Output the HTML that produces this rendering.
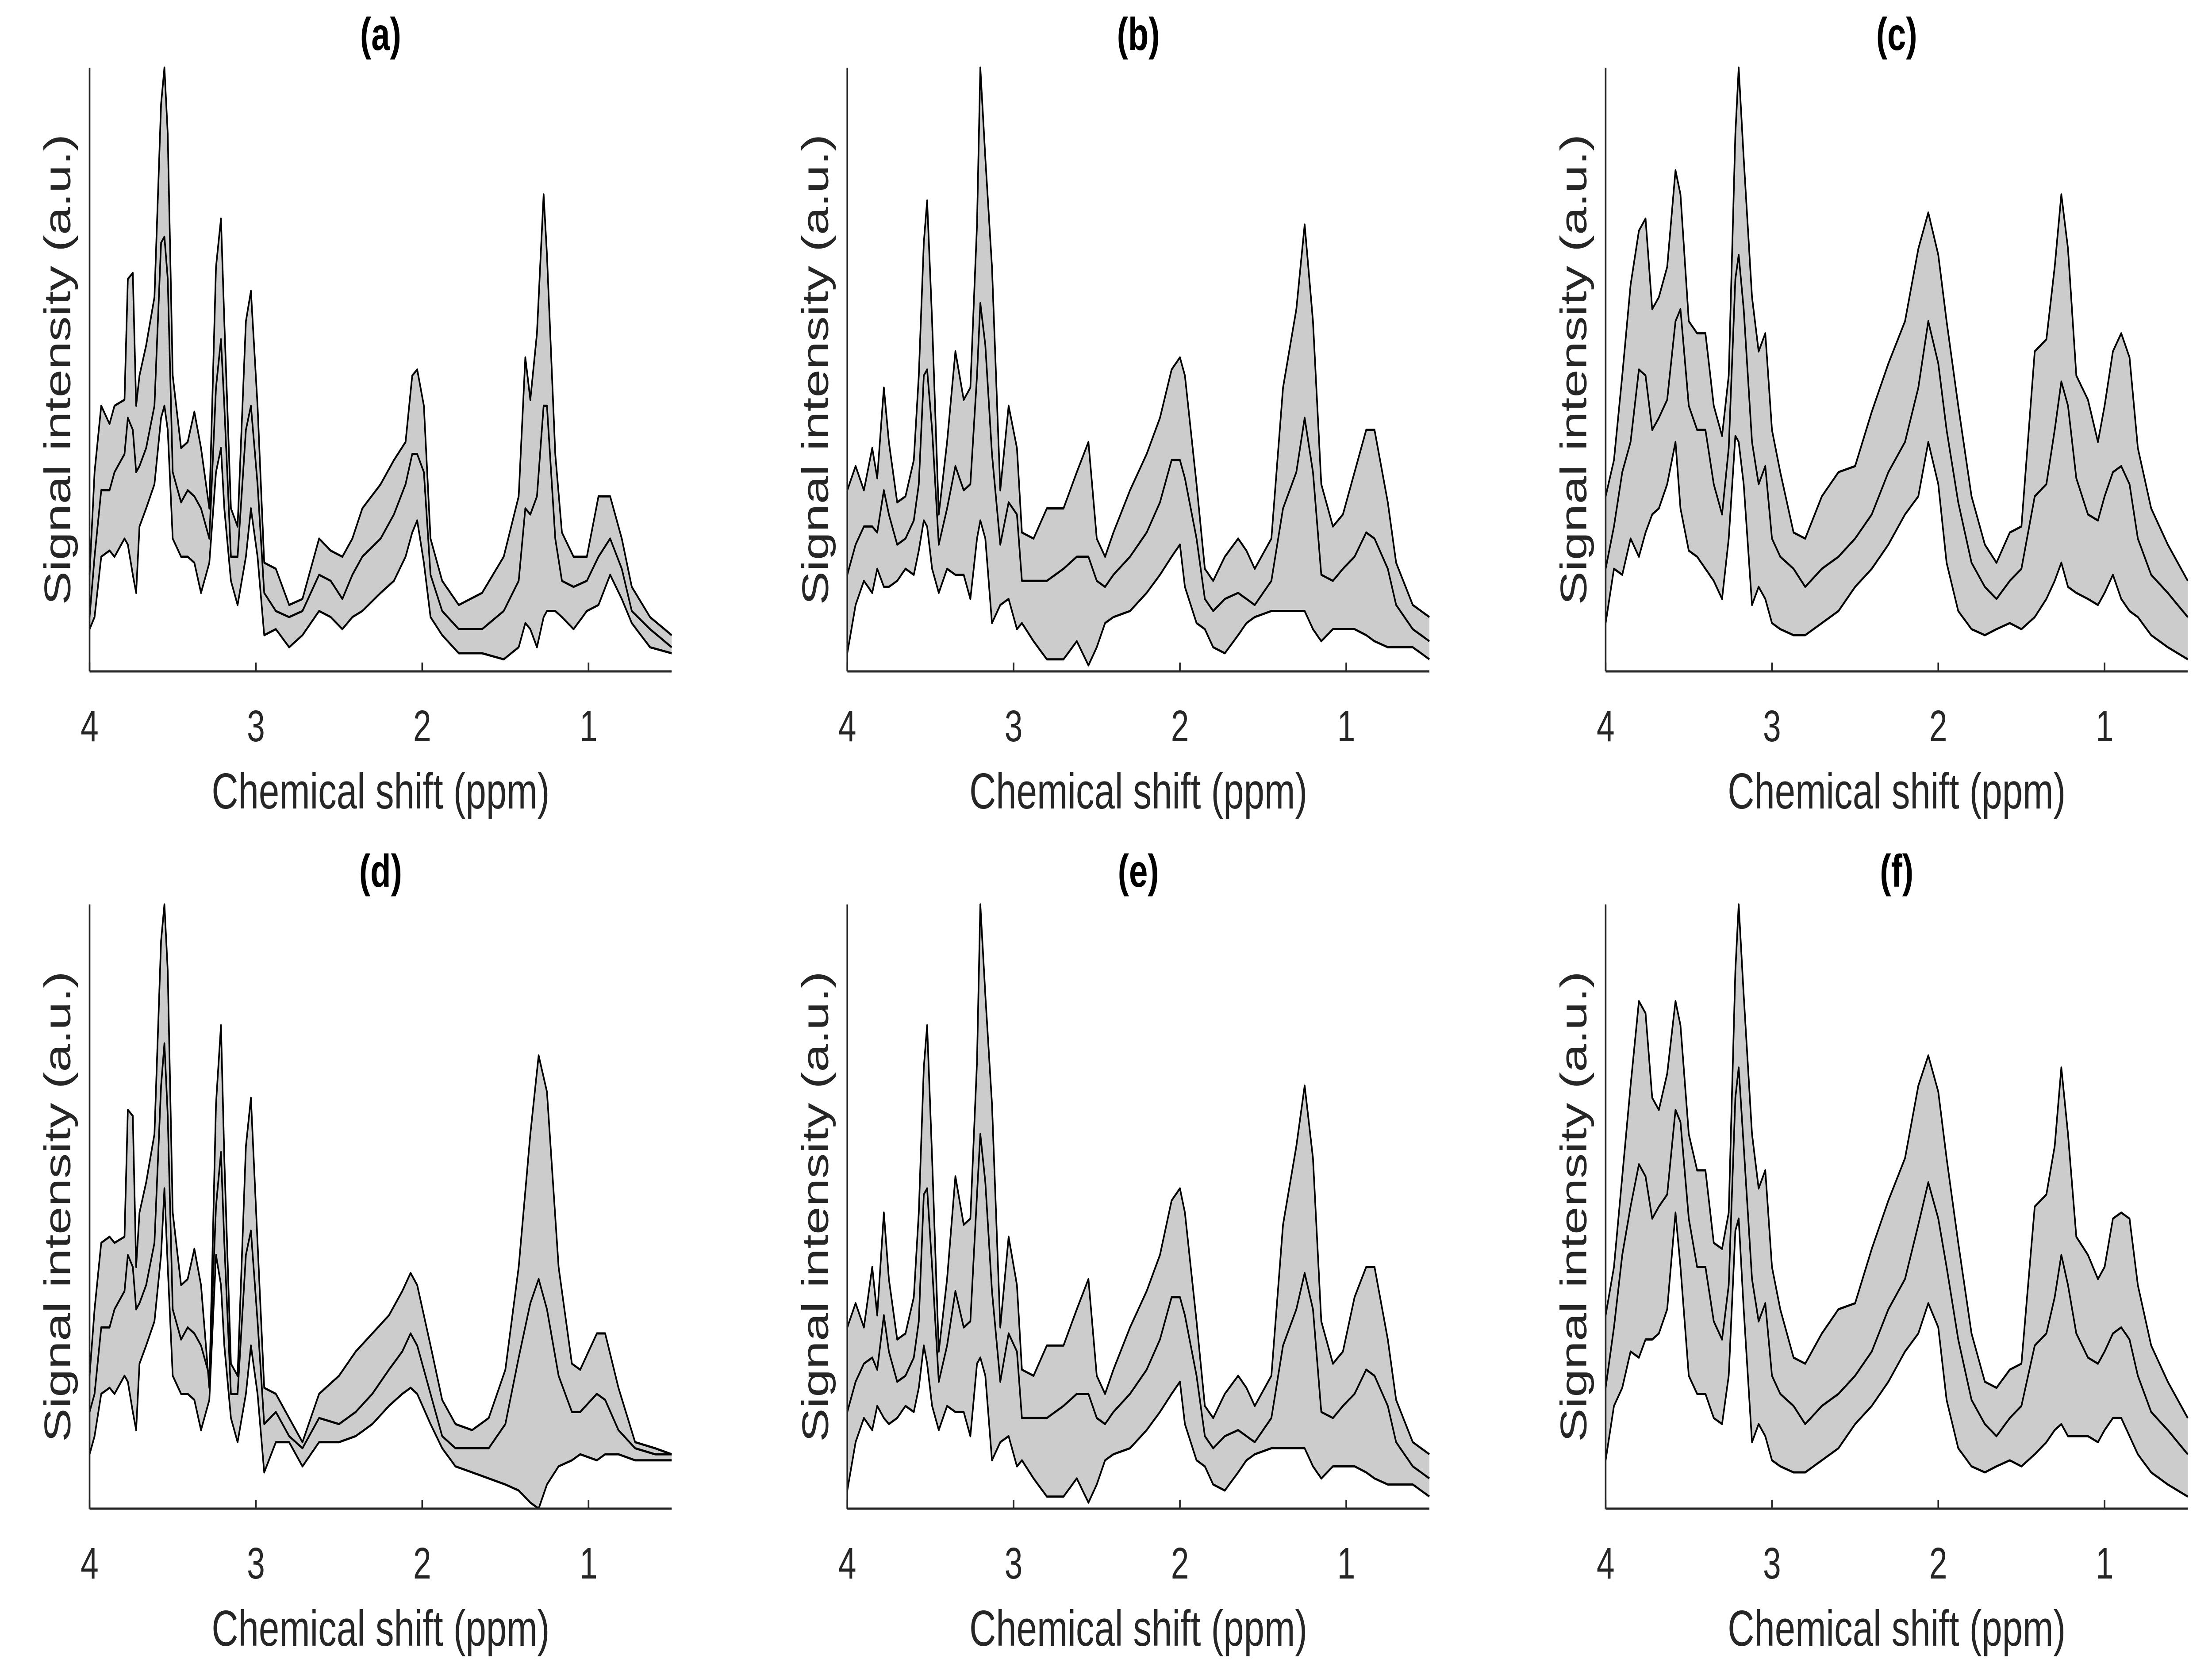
<!DOCTYPE html>
<html><head><meta charset="utf-8">
<style>
html,body{margin:0;padding:0;background:#fff;width:100vw;height:100vh;overflow:hidden;}
svg{display:block;width:100vw;height:100vh;}
text{font-family:"Liberation Sans",Arial,sans-serif;fill:#262626;}
</style></head>
<body>
<svg id="fig" xmlns="http://www.w3.org/2000/svg" viewBox="0 0 6840 3760" preserveAspectRatio="none"></svg>
<script>
// ---- data: ppm grid and signal (% of axis height) per panel ----
const xTicks = [4, 3, 2, 1];
const tickLabels = ["4", "3", "2", "1"];
const panelTitles = ["(a)", "(b)", "(c)", "(d)", "(e)", "(f)"];

const aPpm = [4.0,3.97,3.93,3.88,3.85,3.79,3.77,3.74,3.72,3.70,3.66,3.61,3.57,3.55,3.53,3.50,3.45,3.41,3.37,3.33,3.28,3.24,3.21,3.19,3.15,3.11,3.06,3.03,2.99,2.95,2.88,2.80,2.72,2.62,2.55,2.48,2.42,2.36,2.25,2.17,2.10,2.06,2.03,1.99,1.95,1.88,1.78,1.64,1.51,1.42,1.38,1.35,1.31,1.27,1.25,1.20,1.16,1.09,1.01,0.94,0.87,0.80,0.74,0.63,0.50];
const aUpper = [16,33,44,41,44,45,65,66,44,49,54,62,94,100,89,49,37,38,43,37,27,67,75,58,27,24,58,63,44,18,17,11,12,22,20,19,22,27,31,35,38,49,50,44,22,15,11,13,19,29,52,45,56,79,69,36,23,19,19,29,29,22,14,9,6];
const aMean = [9,19,30,30,33,36,42,40,33,34,37,44,71,72,65,33,28,30,29,27,22,47,55,44,19,19,40,44,31,13,10,9,10,16,15,12,16,19,22,26,31,36,36,33,16,10,7,7,10,15,27,26,29,44,44,22,15,14,15,19,22,17,10,7,4];
const aLower = [7,9,19,20,19,22,21,16,13,24,27,31,42,44,40,22,19,19,18,13,18,33,37,27,15,11,19,27,19,6,7,4,6,10,9,7,9,10,13,15,19,23,25,18,9,6,3,3,2,4,8,7,4,9,10,10,9,7,10,11,16,12,8,4,3];

const bPpm = [4.00,3.95,3.90,3.85,3.82,3.78,3.75,3.70,3.65,3.60,3.57,3.54,3.52,3.49,3.45,3.40,3.35,3.30,3.26,3.22,3.20,3.17,3.13,3.08,3.03,2.98,2.95,2.88,2.80,2.70,2.62,2.55,2.50,2.45,2.40,2.30,2.20,2.12,2.05,2.00,1.97,1.90,1.85,1.80,1.73,1.65,1.60,1.55,1.45,1.38,1.30,1.25,1.20,1.15,1.08,1.02,0.95,0.88,0.83,0.75,0.70,0.60,0.50];
const bUpper = [30,34,30,37,32,47,38,28,29,35,49,71,78,58,26,38,53,45,47,74,100,85,67,30,44,37,23,22,27,27,33,38,22,19,23,30,36,42,50,52,49,31,17,15,19,22,20,17,22,47,60,74,58,31,24,26,33,40,40,28,18,11,9];
const bMean = [16,21,24,24,23,30,26,21,22,25,31,49,50,40,21,27,34,30,31,49,61,54,36,21,28,26,15,15,15,17,19,19,15,14,16,19,23,28,35,35,32,22,12,10,12,13,12,11,15,27,33,42,33,16,15,17,19,23,22,17,11,7,5];
const bLower = [3,11,15,13,17,14,14,15,17,16,20,25,24,17,13,17,16,16,12,22,25,22,8,11,12,7,8,5,2,2,5,1,4,8,9,10,13,16,19,21,14,8,7,4,3,6,8,9,10,10,10,10,7,5,7,7,7,6,5,4,4,4,2];

const cPpm = [4.00,3.95,3.90,3.85,3.80,3.76,3.72,3.68,3.63,3.58,3.55,3.50,3.45,3.40,3.35,3.30,3.26,3.22,3.20,3.17,3.12,3.08,3.04,3.00,2.95,2.87,2.80,2.70,2.60,2.50,2.40,2.30,2.20,2.12,2.06,2.00,1.95,1.88,1.80,1.72,1.65,1.57,1.50,1.42,1.35,1.30,1.26,1.22,1.17,1.10,1.04,1.00,0.95,0.90,0.85,0.80,0.72,0.62,0.50];
const cUpper = [29,35,49,64,73,75,60,62,67,83,79,58,56,56,44,39,49,89,100,85,62,53,56,40,33,23,22,29,33,34,43,51,58,70,76,69,58,44,29,21,18,23,24,53,55,67,79,70,49,45,38,44,53,56,52,37,27,21,15];
const cMean = [17,24,33,38,50,49,40,42,45,58,60,44,40,40,31,26,37,65,69,60,38,31,34,22,19,17,14,17,19,22,26,33,38,47,58,51,40,28,18,14,12,15,17,29,31,40,48,44,32,26,25,29,33,34,31,22,16,13,9];
const cLower = [8,17,16,22,19,23,26,27,31,38,27,20,19,17,15,12,22,39,38,31,11,14,12,8,7,6,6,8,10,14,17,21,26,29,38,31,18,10,7,6,7,8,7,9,12,15,18,14,13,12,11,13,16,12,10,9,6,4,2];

const dPpm = [4.0,3.97,3.93,3.88,3.85,3.79,3.77,3.74,3.72,3.70,3.66,3.61,3.57,3.55,3.53,3.50,3.45,3.41,3.37,3.33,3.28,3.24,3.21,3.19,3.15,3.11,3.06,3.03,2.99,2.95,2.88,2.80,2.72,2.62,2.50,2.40,2.30,2.20,2.12,2.07,2.03,1.95,1.88,1.80,1.70,1.60,1.50,1.42,1.35,1.30,1.25,1.18,1.10,1.05,0.95,0.90,0.82,0.72,0.60,0.50];
const dUpper = [22,33,44,45,44,45,66,65,40,49,54,62,94,100,89,49,37,38,43,37,20,67,80,58,24,22,60,68,44,20,19,15,11,19,22,26,29,32,36,39,37,27,18,14,13,15,23,40,62,75,69,40,24,23,29,29,20,11,10,9];
const dMean = [16,19,30,30,33,36,42,40,33,34,37,44,70,77,65,33,28,30,29,27,22,50,59,44,19,19,42,46,31,14,16,12,10,15,14,16,19,23,26,29,27,19,12,10,10,10,14,25,34,38,33,22,16,16,19,18,13,10,9,9];
const dLower = [9,12,19,20,19,22,21,16,13,24,27,31,42,53,40,22,19,19,18,13,18,42,37,27,15,11,19,27,19,6,11,11,7,11,11,12,14,17,19,20,19,14,10,7,6,5,4,3,1,0,4,7,8,9,8,9,9,8,8,8];

const ePpm = [4.00,3.95,3.90,3.85,3.82,3.78,3.75,3.70,3.65,3.60,3.57,3.54,3.52,3.49,3.45,3.40,3.35,3.30,3.26,3.22,3.20,3.17,3.13,3.08,3.03,2.98,2.95,2.88,2.80,2.70,2.62,2.55,2.50,2.45,2.40,2.30,2.20,2.12,2.05,2.00,1.97,1.90,1.85,1.80,1.73,1.65,1.60,1.55,1.45,1.38,1.30,1.25,1.20,1.15,1.08,1.02,0.95,0.88,0.83,0.75,0.70,0.60,0.50];
const eUpper = [30,34,30,40,32,49,38,28,29,35,49,73,80,58,26,38,55,47,48,74,100,85,67,30,45,37,23,22,27,27,33,38,22,19,23,30,36,42,51,53,49,31,17,15,19,22,20,17,22,47,60,70,58,31,24,26,35,40,40,28,18,11,9];
const eMean = [16,21,24,25,23,32,26,21,22,25,31,52,53,40,21,27,36,30,31,52,62,54,36,21,29,26,15,15,15,17,19,19,15,14,16,19,23,28,35,35,32,22,12,10,12,13,12,11,15,27,33,39,33,16,15,17,19,23,22,17,11,7,5];
const eLower = [3,11,15,13,17,15,14,15,17,16,20,27,24,17,13,17,16,16,12,24,25,22,8,11,12,7,8,5,2,2,5,1,4,8,9,10,13,16,19,21,14,8,7,4,3,6,8,9,10,10,10,10,7,5,7,7,7,6,5,4,4,4,2];

const fPpm = [4.00,3.95,3.90,3.85,3.80,3.76,3.72,3.68,3.63,3.58,3.55,3.50,3.45,3.40,3.35,3.30,3.26,3.22,3.20,3.17,3.12,3.08,3.04,3.00,2.95,2.87,2.80,2.70,2.60,2.50,2.40,2.30,2.20,2.12,2.06,2.00,1.95,1.88,1.80,1.72,1.65,1.57,1.50,1.42,1.35,1.30,1.26,1.22,1.17,1.10,1.04,1.00,0.95,0.90,0.85,0.80,0.72,0.62,0.50];
const fUpper = [32,40,55,70,84,82,68,66,72,84,80,62,56,56,44,43,49,89,100,85,62,53,56,40,33,25,24,29,33,34,43,51,58,70,75,69,58,44,29,21,20,23,24,50,52,60,73,62,45,42,38,40,48,49,48,37,27,21,15];
const fMean = [20,30,42,50,57,55,48,50,52,66,64,48,40,40,31,28,37,68,73,60,38,31,34,22,19,17,14,17,19,22,26,33,38,47,54,48,40,28,18,14,12,15,17,27,29,35,42,37,29,25,24,26,29,30,28,22,16,13,9];
const fLower = [8,17,20,26,25,28,28,29,33,49,40,22,19,19,15,14,22,46,48,33,11,14,12,8,7,6,6,8,10,14,17,21,26,29,34,30,18,10,7,6,7,8,7,9,11,13,14,12,12,12,11,13,15,15,12,9,6,4,2];

const panels = [
  {ppm:aPpm, up:aUpper, mean:aMean, low:aLower},
  {ppm:bPpm, up:bUpper, mean:bMean, low:bLower},
  {ppm:cPpm, up:cUpper, mean:cMean, low:cLower},
  {ppm:dPpm, up:dUpper, mean:dMean, low:dLower},
  {ppm:ePpm, up:eUpper, mean:eMean, low:eLower},
  {ppm:fPpm, up:fUpper, mean:fMean, low:fLower}
];

// ---- layout ----
const NS = "http://www.w3.org/2000/svg";
const svg = document.getElementById("fig");
const colX = [277, 2620, 4965];
const rowY = [[153, 1518], [2045, 3411]];
const AXW = 1800;
const PPM_MAX = 4, PPM_MIN = 0.5;

function mk(tag, attrs, parent) {
  const el = document.createElementNS(NS, tag);
  for (const k in attrs) el.setAttribute(k, attrs[k]);
  (parent || svg).appendChild(el);
  return el;
}

panels.forEach((p, i) => {
  const col = i % 3, row = Math.floor(i / 3);
  const x0 = colX[col], yTop = rowY[row][0], yBot = rowY[row][1];
  const xs = v => x0 + (PPM_MAX - v) / (PPM_MAX - PPM_MIN) * AXW;
  const ys = v => yBot - v / 100 * (yBot - yTop);
  const g = mk("g", {});
  
  

  const upPts = p.ppm.map((v, k) => xs(v).toFixed(1) + "," + ys(p.up[k]).toFixed(1));
  const lowPts = p.ppm.map((v, k) => xs(v).toFixed(1) + "," + ys(p.low[k]).toFixed(1));
  const band = mk("polygon", {points: upPts.concat(lowPts.slice().reverse()).join(" "), fill: "#cccccc", stroke: "none"}, g);
  
  

  [["upper-line", p.up], ["mean-line", p.mean], ["lower-line", p.low]].forEach(([nm, arr]) => {
    const pts = p.ppm.map((v, k) => xs(v).toFixed(1) + "," + ys(arr[k]).toFixed(1)).join(" ");
    const ln = mk("polyline", {points: pts, fill: "none", stroke: "#000", "stroke-width": 5, "stroke-linejoin": "round"}, g);
    
    
  });

  const yAxis = mk("line", {x1: x0, y1: yTop, x2: x0, y2: yBot, stroke: "#262626", "stroke-width": 5}, g);
  
  
  const xAxis = mk("line", {x1: x0, y1: yBot, x2: x0 + AXW, y2: yBot, stroke: "#262626", "stroke-width": 5}, g);
  
  

  xTicks.forEach((t, k) => {
    const tx = xs(t);
    const tk = mk("line", {x1: tx, y1: yBot, x2: tx, y2: yBot - 20, stroke: "#262626", "stroke-width": 5}, g);
    
    
    const tl = mk("text", {x: tx, y: yBot + 158, "font-size": 100, "text-anchor": "middle"}, g);
    tl.textContent = tickLabels[k];
    
    
  });

  const xl = mk("text", {x: x0 + AXW / 2, y: yBot + 310, "font-size": 114, "text-anchor": "middle"}, g);
  xl.textContent = "Chemical shift (ppm)";
  
  

  const cy = (yTop + yBot) / 2, cx = x0 - 60;
  const yl = mk("text", {x: cx, y: cy, "font-size": 114, "text-anchor": "middle", transform: "rotate(-90 " + cx + " " + cy + ")"}, g);
  yl.textContent = "Signal intensity (a.u.)";
  
  

  const tt = mk("text", {x: x0 + AXW / 2, y: yTop - 40, "font-size": 104, "font-weight": "bold", "text-anchor": "middle"}, g);
  tt.setAttribute("style", "fill:#000");
  tt.textContent = panelTitles[i];
  
  
});
</script>
</body></html>
